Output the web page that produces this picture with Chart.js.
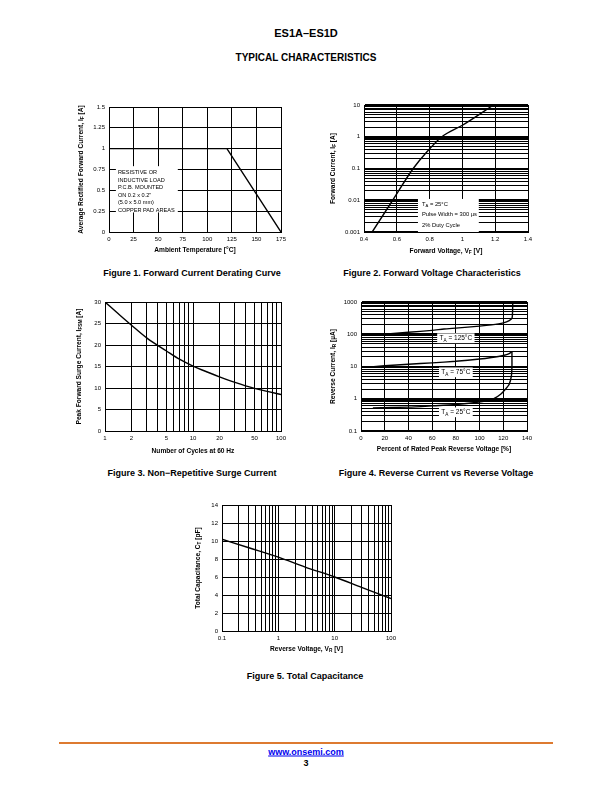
<!DOCTYPE html>
<html>
<head>
<meta charset="utf-8">
<script src="https://cdn.jsdelivr.net/npm/chart.js@4.4.1/dist/chart.umd.min.js"></script>
<style>
    body { margin: 0; background: #fff; }
    #page { position: relative; width: 612px; height: 792px; overflow: hidden; background: #fff; font-family: "Liberation Sans", Arial, sans-serif; }
    .txt { position: absolute; white-space: nowrap; font-weight: bold; color: #000; transform: translate(-50%, -50%); line-height: 1; }
    canvas { position: absolute; }
    #rule { position: absolute; left: 59px; top: 742px; width: 494px; height: 2px; background: #dd7a30; }
    #link { color: #0000ee; text-decoration: underline; }
</style>
</head>
<body>
<div id="page">
    <div class="txt" style="left:306px;top:33px;font-size:11px">ES1A–ES1D</div>
    <div class="txt" style="left:306px;top:58px;font-size:10px">TYPICAL CHARACTERISTICS</div>

    <canvas id="fig1"></canvas>
    <canvas id="fig2"></canvas>
    <canvas id="fig3"></canvas>
    <canvas id="fig4"></canvas>
    <canvas id="fig5"></canvas>

    <div class="txt" style="left:192px;top:273px;font-size:9px">Figure 1. Forward Current Derating Curve</div>
    <div class="txt" style="left:432px;top:273px;font-size:9px">Figure 2. Forward Voltage Characteristics</div>
    <div class="txt" style="left:192px;top:473px;font-size:9px">Figure 3. Non−Repetitive Surge Current</div>
    <div class="txt" style="left:436px;top:473px;font-size:9px">Figure 4. Reverse Current vs Reverse Voltage</div>
    <div class="txt" style="left:305px;top:676px;font-size:9px">Figure 5. Total Capacitance</div>

    <div id="rule"></div>
    <div class="txt" id="link" style="left:306px;top:752px;font-size:9px">www.onsemi.com</div>
    <div class="txt" style="left:306px;top:763px;font-size:9px">3</div>
</div>

<script>
// Figure 1 - forward current derating
const deratingTemp = [0, 120, 175];
const deratingCurrent = [1, 1, 0];
const deratingXTicks = [0, 25, 50, 75, 100, 125, 150, 175];
const deratingYTicks = [0, 0.25, 0.5, 0.75, 1, 1.25, 1.5];

// Figure 2 - forward voltage
const forwardVolts = [0.45, 0.575, 0.7, 0.78, 0.875, 1.0, 1.19];
const forwardAmps = [0.001, 0.01, 0.1, 0.32, 1, 2.3, 10];
const forwardXTicks = [0.4, 0.6, 0.8, 1, 1.2, 1.4];
const forwardYTicks = [0.001, 0.01, 0.1, 1, 10];

// Figure 3 - non-repetitive surge current
const surgeCycles = [1, 1.5, 2, 3, 5, 7, 10, 15, 20, 30, 50, 70, 100];
const surgeAmps = [30, 26.8, 24.6, 21.6, 18.6, 16.7, 15.1, 13.6, 12.6, 11.3, 9.9, 9.2, 8.5];
const surgeXTicks = [1, 2, 5, 10, 20, 50, 100];
const surgeYTicks = [0, 5, 10, 15, 20, 25, 30];

// Figure 4 - reverse current
const reversePct125 = [6, 20, 40, 60, 70, 80, 100, 110, 120, 125, 127.5, 128];
const reverseUa125 = [92, 100, 115, 132, 145, 155, 178, 195, 225, 265, 330, 1000];
const reversePct75 = [6, 20, 40, 60, 80, 100, 110, 120, 125, 127.3];
const reverseUa75 = [9.5, 10.5, 11.8, 13, 14.5, 17, 19, 22, 25, 29];
const reversePct25 = [10, 40, 60, 80, 95, 105, 112, 118, 122, 125, 126.8, 127.3, 127.3];
const reverseUa25 = [0.52, 0.55, 0.6, 0.66, 0.75, 0.85, 1.0, 1.4, 2.0, 2.8, 5, 10, 28];
const reverseXTicks = [0, 20, 40, 60, 80, 100, 120, 140];
const reverseYTicks = [0.1, 1, 10, 100, 1000];

// Figure 5 - total capacitance
const capVolts = [0.1, 0.3, 1, 3, 10, 30, 100];
const capPf = [10.2, 9.25, 8.2, 7.1, 6.0, 4.85, 3.6];
const capXTicks = [0.1, 1, 10, 100];
const capYTicks = [0, 2, 4, 6, 8, 10, 12, 14];

const FONT = '"Liberation Sans", Arial, sans-serif';
const YW = 40, XH = 28, PT = 8, PR = 14;
const TITLE_SIZE = 6.6;

Chart.defaults.font.family = FONT;
Chart.defaults.color = "#000";

// every 1..9 x 10^n between min and max, for log grids
function logGrid(min, max) {
    const vals = [];
    for (let e = Math.round(Math.log10(min)); e < Math.round(Math.log10(max)); e++) {
        for (let m = 1; m < 10; m++) vals.push(Number((m * Math.pow(10, e)).toPrecision(6)));
    }
    vals.push(max);
    return vals;
}

function isDecade(v) {
    const l = Math.log10(v);
    return Math.abs(l - Math.round(l)) < 1e-9;
}

// draw text with _{sub} parts
function drawRich(ctx, text, x, y, size, weight, align, rotate) {
    const parts = text.split(/(_\{[^}]*\})/).filter(Boolean).map((p) =>
        p.startsWith("_{") ? { t: p.slice(2, -1), sub: true } : { t: p, sub: false }
    );
    const mainFont = `${weight} ${size}px ${FONT}`;
    const subFont = `${weight} ${(size * 0.72).toFixed(2)}px ${FONT}`;
    ctx.save();
    ctx.translate(x, y);
    if (rotate) ctx.rotate(-Math.PI / 2);
    let total = 0;
    parts.forEach((p) => {
        ctx.font = p.sub ? subFont : mainFont;
        total += ctx.measureText(p.t).width;
    });
    let cx = align === "left" ? 0 : -total / 2;
    ctx.fillStyle = "#000";
    ctx.textBaseline = "middle";
    ctx.textAlign = "left";
    parts.forEach((p) => {
        ctx.font = p.sub ? subFont : mainFont;
        ctx.fillText(p.t, cx, p.sub ? size * 0.3 : 0);
        cx += ctx.measureText(p.t).width;
    });
    ctx.restore();
    return total;
}

function titlesPlugin(xTitle, yTitle, xOff, yOff) {
    return {
        id: "axisTitles",
        afterDraw(chart) {
            const a = chart.chartArea;
            const ctx = chart.ctx;
            drawRich(ctx, xTitle, (a.left + a.right) / 2, a.bottom + xOff, TITLE_SIZE, "bold", "center", false);
            drawRich(ctx, yTitle, a.left - yOff, (a.top + a.bottom) / 2, TITLE_SIZE, "bold", "center", true);
        },
    };
}

// white boxes with notes; boxes are given in axis values
function notesPlugin(boxes, labels) {
    return {
        id: "notes",
        afterDatasetsDraw(chart) {
            const ctx = chart.ctx;
            const sx = chart.scales.x, sy = chart.scales.y;
            (boxes || []).forEach((b) => {
                const l = sx.getPixelForValue(b.xMin), r = sx.getPixelForValue(b.xMax);
                const t = sy.getPixelForValue(b.yMax), btm = sy.getPixelForValue(b.yMin);
                ctx.fillStyle = "#fff";
                ctx.fillRect(l, t, r - l, btm - t);
                b.lines.forEach((line, i) => {
                    drawRich(ctx, line, l + b.pad, t + b.first + i * b.gap, b.size, "normal", "left", false);
                });
            });
            (labels || []).forEach((lb) => {
                const x = sx.getPixelForValue(lb.x), y = sy.getPixelForValue(lb.y);
                ctx.font = `${lb.size}px ${FONT}`;
                const w = ctx.measureText(lb.text.replace(/_\{|\}/g, "")).width + 4;
                ctx.fillStyle = "#fff";
                ctx.fillRect(x - w / 2, y - lb.size * 0.75, w, lb.size * 1.5);
                drawRich(ctx, lb.text, x, y, lb.size, "normal", "center", false);
            });
        },
    };
}

function axis(type, gridVals, labels, thickDecades) {
    return {
        type: type,
        min: gridVals[0],
        max: gridVals[gridVals.length - 1],
        afterBuildTicks: (s) => {
            s.ticks = gridVals.map((v) => ({ value: v }));
        },
        afterFit: (s) => {
            if (s.isHorizontal()) s.height = XH;
            else s.width = YW;
        },
        ticks: {
            autoSkip: false,
            maxRotation: 0,
            padding: 4,
            color: "#000",
            font: { size: 6 },
            callback: (v) => (labels.includes(v) ? String(v) : ""),
        },
        grid: {
            color: "#000",
            drawTicks: false,
            lineWidth: (c) => (thickDecades && c.tick && isDecade(c.tick.value) ? 2 : 1),
        },
        border: { color: "#000", width: 1 },
    };
}

function line(xs, ys, smooth) {
    return {
        data: xs.map((x, i) => ({ x: x, y: ys[i] })),
        borderColor: "#000",
        borderWidth: 1.4,
        pointRadius: 0,
        fill: false,
        tension: smooth === "monotone" ? 0 : smooth,
        cubicInterpolationMode: smooth === "monotone" ? "monotone" : "default",
    };
}

function makeChart(id, plot, datasets, xAxis, yAxis, plugins) {
    const canvas = document.getElementById(id);
    canvas.width = plot.right - plot.left + YW + PR;
    canvas.height = plot.bottom - plot.top + PT + XH;
    canvas.style.left = plot.left - YW + "px";
    canvas.style.top = plot.top - PT + "px";
    return new Chart(canvas, {
        type: "line",
        data: { datasets: datasets },
        options: {
            responsive: false,
            animation: false,
            devicePixelRatio: 1,
            layout: { padding: { top: PT, right: PR, left: 0, bottom: 0 } },
            plugins: { legend: { display: false }, tooltip: { enabled: false } },
            scales: { x: xAxis, y: yAxis },
        },
        plugins: plugins,
    });
}

document.addEventListener("DOMContentLoaded", () => {
    // Figure 1
    makeChart(
        "fig1",
        { left: 109, top: 107, right: 281, bottom: 232 },
        [line(deratingTemp, deratingCurrent, 0)],
        axis("linear", deratingXTicks, deratingXTicks, false),
        axis("linear", deratingYTicks, deratingYTicks, false),
        [
            notesPlugin(
                [{
                    xMin: 7, xMax: 70, yMin: 0.235, yMax: 0.79,
                    pad: 2, first: 6.5, gap: 7.5, size: 5.6,
                    lines: ["RESISTIVE OR", "INDUCTIVE LOAD", "P.C.B. MOUNTED", 'ON 0.2 x 0.2"', "(5.0 x 5.0 mm)", "COPPER PAD AREAS"],
                }],
                []
            ),
            titlesPlugin("Ambient Temperature [°C]", "Average Rectified Forward Current, I_{F} [A]", 18, 28),
        ]
    );

    // Figure 2
    makeChart(
        "fig2",
        { left: 364, top: 105, right: 528, bottom: 232 },
        [line(forwardVolts, forwardAmps, "monotone")],
        axis("linear", forwardXTicks, forwardXTicks, false),
        axis("logarithmic", logGrid(0.001, 10), forwardYTicks, true),
        [
            notesPlugin(
                [{
                    xMin: 0.729, xMax: 1.1, yMin: 0.001, yMax: 0.011,
                    pad: 4, first: 5, gap: 10.5, size: 5.8,
                    lines: ["T_{A} = 25°C", "Pulse Width = 300 µs", "2% Duty Cycle"],
                }],
                []
            ),
            titlesPlugin("Forward Voltage, V_{F} [V]", "Forward Current, I_{F} [A]", 19, 31),
        ]
    );

    // Figure 3
    makeChart(
        "fig3",
        { left: 105, top: 302, right: 281, bottom: 431 },
        [line(surgeCycles, surgeAmps, "monotone")],
        axis("logarithmic", logGrid(1, 100), surgeXTicks, false),
        axis("linear", surgeYTicks, surgeYTicks, false),
        [titlesPlugin("Number of Cycles at 60 Hz", "Peak Forward Surge Current, I_{FSM} [A]", 20, 26)]
    );

    // Figure 4
    makeChart(
        "fig4",
        { left: 361, top: 302, right: 527, bottom: 431 },
        [
            line(reversePct125, reverseUa125, 0.2),
            line(reversePct75, reverseUa75, 0.2),
            line(reversePct25, reverseUa25, 0.2),
        ],
        axis("linear", reverseXTicks, reverseXTicks, false),
        axis("logarithmic", logGrid(0.1, 1000), reverseYTicks, true),
        [
            notesPlugin([], [
                { x: 80, y: 75, text: "T_{A} = 125°C", size: 6.5 },
                { x: 80, y: 6.6, text: "T_{A} = 75°C", size: 6.5 },
                { x: 80, y: 0.38, text: "T_{A} = 25°C", size: 6.5 },
            ]),
            titlesPlugin("Percent of Rated Peak Reverse Voltage [%]", "Reverse Current, I_{R} [µA]", 18, 28),
        ]
    );

    // Figure 5
    makeChart(
        "fig5",
        { left: 222, top: 505, right: 391, bottom: 631 },
        [line(capVolts, capPf, "monotone")],
        axis("logarithmic", logGrid(0.1, 100), capXTicks, false),
        axis("linear", capYTicks, capYTicks, false),
        [titlesPlugin("Reverse Voltage, V_{R} [V]", "Total Capacitance, C_{T} [pF]", 18, 24)]
    );
});
</script>
</body>
</html>
